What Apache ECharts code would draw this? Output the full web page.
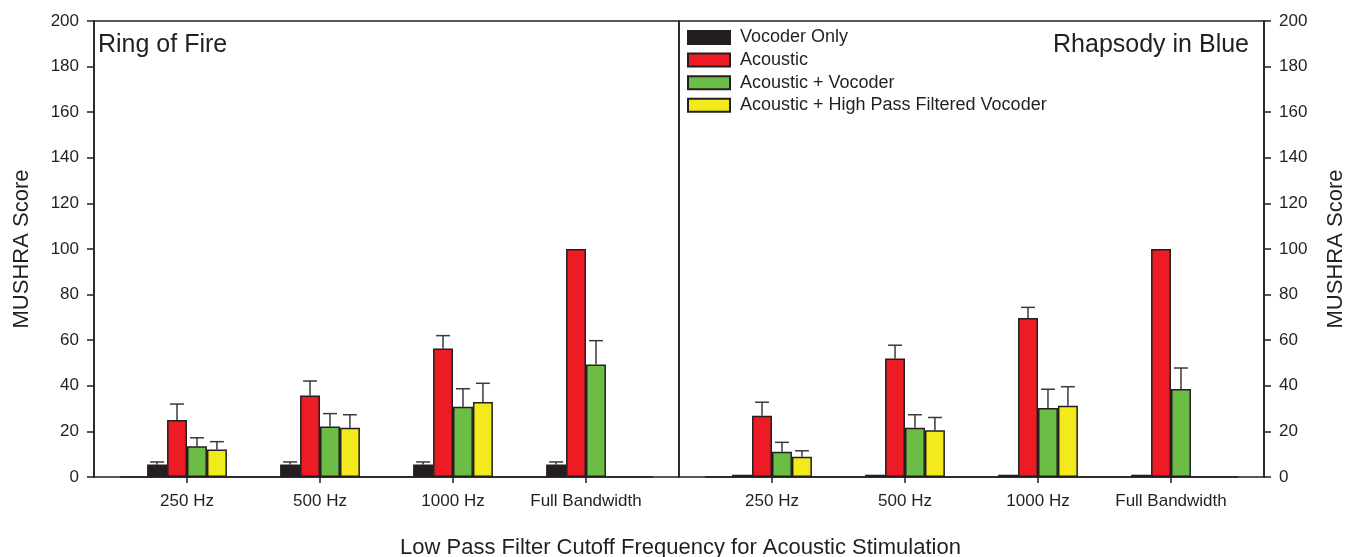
<!DOCTYPE html>
<html>
<head>
<meta charset="utf-8">
<script src="https://cdn.jsdelivr.net/npm/echarts@6/dist/echarts.min.js"></script>
<style>
html,body{margin:0;padding:0;background:#fff;}
#chart{width:1361px;height:557px;}
</style>
</head>
<body>
<div id="chart"></div>
<script>
// ---- data ----
const categories = ['250 Hz', '500 Hz', '1000 Hz', 'Full Bandwidth'];
const seriesNames = ['Vocoder Only', 'Acoustic', 'Acoustic + Vocoder', 'Acoustic + High Pass Filtered Vocoder'];
const panelTitles = ['Ring of Fire', 'Rhapsody in Blue'];
const yTicks = [0, 20, 40, 60, 80, 100, 120, 140, 160, 180, 200];

// Ring of Fire (left panel): means and upward error amounts
const ringVocoder = [5.5, 5.5, 5.5, 5.5];
const ringVocoderErr = [1.1, 1.1, 1.1, 1.1];
const ringAcoustic = [25, 35.8, 56.4, 100];
const ringAcousticErr = [7, 6.3, 5.6, 0];
const ringAV = [13.5, 22.1, 30.8, 49.3];
const ringAVErr = [3.7, 5.7, 7.9, 10.5];
const ringHPF = [12.1, 21.6, 32.9, '-'];
const ringHPFErr = [3.4, 5.7, 8.2, '-'];

// Rhapsody in Blue (right panel)
const rhapVocoder = [1, 1, 1, 1];
const rhapVocoderErr = [0, 0, 0, 0];
const rhapAcoustic = [26.9, 52.0, 69.7, 100];
const rhapAcousticErr = [5.9, 5.8, 4.7, 0];
const rhapAV = [11.1, 21.6, 30.3, 38.6];
const rhapAVErr = [4.1, 5.7, 8.2, 9.2];
const rhapHPF = [8.9, 20.5, 31.3, '-'];
const rhapHPFErr = [2.6, 5.6, 8.3, '-'];

// ---- styles ----
const colors = ['#231f20', '#ed1c24', '#6cbd45', '#f2ea1a'];
const ink = '#231f20';
const FONT = '"Liberation Sans", Arial, Helvetica, sans-serif';
const CAT_GAP = 0.4; // barCategoryGap fraction
const NSER = 4;

const chart = echarts.init(document.getElementById('chart'));

function barSeries(name, idx, grid, data) {
  return {
    type: 'bar', name: name, xAxisIndex: grid, yAxisIndex: grid, data: data,
    barGap: '0%', barCategoryGap: (CAT_GAP * 100) + '%',
    itemStyle: { color: colors[idx], borderColor: ink, borderWidth: 1.5 },
    emphasis: { disabled: true }, z: 3
  };
}
function errSeries(name, idx, grid, means, errs) {
  const d = [];
  for (let i = 0; i < means.length; i++) {
    if (means[i] === '-' || errs[i] === '-' || !errs[i]) continue;
    d.push([i, means[i], means[i] + errs[i]]);
  }
  return {
    type: 'custom', name: name, xAxisIndex: grid, yAxisIndex: grid, data: d, z: 2,
    silent: true,
    renderItem: function (params, api) {
      const band = api.size([1, 0])[0];
      const bw = band * (1 - CAT_GAP) / NSER;
      const base = api.coord([api.value(0), api.value(1)]);
      const top = api.coord([api.value(0), api.value(2)]);
      const cx = base[0] + (idx - (NSER - 1) / 2) * bw;
      const cap = bw * 0.35;
      const st = { stroke: '#3a3a3a', lineWidth: 1.5 };
      return {
        type: 'group', children: [
          { type: 'line', shape: { x1: cx, y1: base[1], x2: cx, y2: top[1] }, style: st },
          { type: 'line', shape: { x1: cx - cap, y1: top[1], x2: cx + cap, y2: top[1] }, style: st }
        ]
      };
    }
  };
}

const leftSets = [[ringVocoder, ringVocoderErr], [ringAcoustic, ringAcousticErr], [ringAV, ringAVErr], [ringHPF, ringHPFErr]];
const rightSets = [[rhapVocoder, rhapVocoderErr], [rhapAcoustic, rhapAcousticErr], [rhapAV, rhapAVErr], [rhapHPF, rhapHPFErr]];

const series = [];
[[leftSets, 1], [rightSets, 3]].forEach(function (p) {
  p[0].forEach(function (s, k) {
    series.push(barSeries(seriesNames[k], k, p[1], s[0]));
    series.push(errSeries(seriesNames[k], k, p[1], s[0], s[1]));
  });
});

const textBase = { color: ink, fontFamily: FONT };

function frameY(grid, pos) {
  return {
    type: 'value', gridIndex: grid, position: pos, min: yTicks[0], max: yTicks[yTicks.length - 1],
    interval: yTicks[1] - yTicks[0],
    name: 'MUSHRA Score', nameLocation: 'middle', nameRotate: 90, nameGap: 61,
    nameTextStyle: Object.assign({ fontSize: 22 }, textBase),
    axisLine: { show: true, onZero: false, lineStyle: { color: ink, width: 1.5 } },
    axisTick: { show: true, inside: false, length: 7, lineStyle: { color: ink, width: 1.5 } },
    axisLabel: Object.assign({ fontSize: 17, margin: 15 }, textBase),
    splitLine: { show: false }
  };
}
function barX(grid) {
  return {
    type: 'category', gridIndex: grid, data: categories, boundaryGap: true,
    axisLine: { show: true, onZero: false, lineStyle: { color: ink, width: 1.5 } },
    axisTick: { show: true, alignWithLabel: true, length: 6, lineStyle: { color: ink, width: 1.5 } },
    axisLabel: Object.assign({ fontSize: 17, margin: 16, interval: 0 }, textBase),
    splitLine: { show: false }
  };
}
function hiddenX(grid) {
  return { type: 'category', gridIndex: grid, data: ['a'], show: false, axisLine: { show: false, onZero: false } };
}
function hiddenY(grid) {
  return { type: 'value', gridIndex: grid, min: 0, max: 200, show: false, axisLine: { show: false, onZero: false } };
}

const option = {
  animation: false,
  backgroundColor: '#fff',
  textStyle: { fontFamily: FONT },
  grid: [
    { left: 94, top: 21, width: 585, height: 456, show: true, borderColor: ink, borderWidth: 1.5, backgroundColor: 'transparent' },
    { left: 120.5, top: 21, width: 532, height: 456 },
    { left: 679, top: 21, width: 585, height: 456, show: true, borderColor: ink, borderWidth: 1.5, backgroundColor: 'transparent' },
    { left: 705.5, top: 21, width: 532, height: 456 }
  ],
  xAxis: [hiddenX(0), barX(1), hiddenX(2), barX(3)],
  yAxis: [frameY(0, 'left'), hiddenY(1), frameY(2, 'right'), hiddenY(3)],
  legend: {
    data: seriesNames, orient: 'vertical', left: 687, top: 28.5, padding: 0,
    icon: 'rect',
    itemWidth: 42, itemHeight: 13, itemGap: 4.6,
    selectedMode: false,
    textStyle: Object.assign({ fontSize: 18, lineHeight: 18, padding: [0, 0, 0, 5] }, textBase)
  },
  graphic: [
    { type: 'text', left: 98, top: 33, style: { text: panelTitles[0], fontSize: 25, fill: ink, fontFamily: FONT } },
    { type: 'text', right: 1361 - 1249, top: 33, style: { text: panelTitles[1], fontSize: 25, fill: ink, fontFamily: FONT } },
    { type: 'text', left: 'center', top: 537, style: { text: 'Low Pass Filter Cutoff Frequency for Acoustic Stimulation', fontSize: 22, fill: ink, fontFamily: FONT } }
  ],
  series: series
};
chart.setOption(option);
</script>
</body>
</html>
